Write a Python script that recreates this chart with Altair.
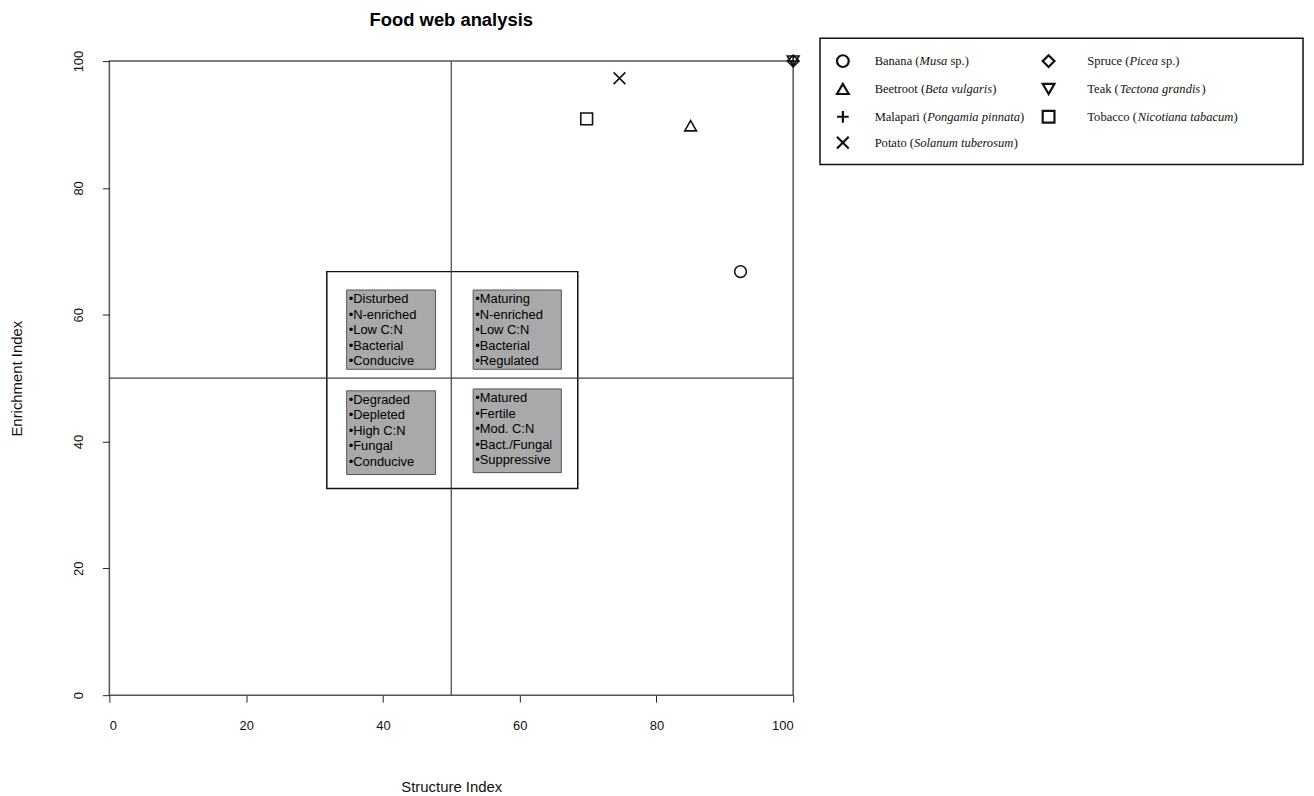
import altair as alt
import pandas as pd

# ---------------- data ----------------
species = ["Banana", "Beetroot", "Malapari", "Potato", "Spruce", "Teak", "Tobacco"]
latin = ["Musa", "Beta vulgaris", "Pongamia pinnata", "Solanum tuberosum",
         "Picea", "Tectona grandis", "Nicotiana tabacum"]
suffix = [" sp.)", ")", ")", ")", " sp.)", ")", ")"]
structure_index = [92.3, 85.0, 100.0, 74.6, 100.0, 100.0, 69.8]
enrichment_index = [66.8, 89.8, 100.0, 97.3, 100.0, 100.0, 90.9]
shapes = ["circle", "triangle-up", "M-1,0L1,0M0,-1L0,1", "M-1,-1L1,1M-1,1L1,-1",
          "diamond", "triangle-down", "square"]

quad_labels = [
    "•Disturbed\n•N-enriched\n•Low C:N\n•Bacterial\n•Conducive",
    "•Maturing\n•N-enriched\n•Low C:N\n•Bacterial\n•Regulated",
    "•Degraded\n•Depleted\n•High C:N\n•Fungal\n•Conducive",
    "•Matured\n•Fertile\n•Mod. C:N\n•Bact./Fungal\n•Suppressive",
]
# gray box extents (data units)
quad_x1 = [34.7, 53.2, 34.7, 53.2]
quad_x2 = [47.7, 66.1, 47.7, 66.1]
quad_y1 = [51.4, 51.4, 34.8, 35.1]
quad_y2 = [63.9, 63.9, 48.0, 48.3]
quad_tx = [35.0, 53.5, 35.0, 53.5]
quad_ty = [63.4, 63.4, 47.5, 47.8]

ticks = [0, 20, 40, 60, 80, 100]

# ---------------- layout ----------------
W, H = 688, 638
PXX = W / 100.0
PXY = H / 100.0
FS_LEG = 12.6

roman = {" ": 250, "(": 333, ")": 333, ".": 250, "B": 667, "M": 889, "P": 556,
         "S": 556, "T": 611, "a": 444, "b": 500, "c": 444, "e": 444, "i": 278,
         "k": 500, "l": 278, "n": 500, "o": 500, "p": 500, "r": 333, "s": 389,
         "t": 278, "u": 500}
italic = {" ": 250, "B": 611, "M": 833, "N": 667, "P": 611, "S": 500, "T": 556,
          "a": 500, "b": 500, "c": 444, "d": 500, "e": 444, "g": 500, "i": 278,
          "l": 278, "m": 722, "n": 500, "o": 500, "p": 500, "r": 389, "s": 389,
          "t": 278, "u": 500, "v": 444}


def twidth(s, table):
    return sum(table.get(ch, 500) for ch in s) / 1000.0 * FS_LEG


# legend grid (pixels relative to plot origin)
leg_col = [0, 0, 0, 0, 1, 1, 1]
leg_row = [0, 1, 2, 3, 0, 1, 2]
sym_x = [738, 945]
txt_x = [770, 984]
row_y = [0, 28, 56, 82]

sym_rows, seg_rows = [], []
for i, sp in enumerate(species):
    c, r = leg_col[i], leg_row[i]
    yv = 100 - row_y[r] / PXY
    sym_rows.append({"species": sp, "x": sym_x[c] / PXX, "y": yv})
    x0 = txt_x[c]
    segments = [(sp + " (", "n", roman), (latin[i], "i", italic), (suffix[i], "n", roman)]
    xc = x0
    for txt, style, tab in segments:
        lead = len(txt) - len(txt.lstrip(" "))
        xc += twidth(" " * lead, tab)
        core = txt.lstrip(" ")
        seg_rows.append({"t": core, "x": xc / PXX, "y": yv, "style": style})
        xc += twidth(core, tab)

pts = pd.DataFrame({"species": species, "SI": structure_index, "EI": enrichment_index})
syms = pd.DataFrame(sym_rows)
segs = pd.DataFrame(seg_rows)
quads = pd.DataFrame({"label": quad_labels, "x1": quad_x1, "x2": quad_x2,
                      "y1": quad_y1, "y2": quad_y2, "tx": quad_tx, "ty": quad_ty})

xs = alt.Scale(domain=[0, 100], nice=False, zero=False)
ys = alt.Scale(domain=[0, 100], nice=False, zero=False)
shape_scale = alt.Scale(domain=species, range=shapes)

FONT = "Liberation Sans"

xaxis = alt.Axis(values=ticks, title="Structure Index", grid=False, domain=False,
                 tickSize=7, tickColor="#222", labelPadding=18, labelFontSize=13,
                 labelFont=FONT, labelColor="#111", titleFont=FONT, titleFontSize=15,
                 titleFontWeight="normal", titleColor="#111", titlePadding=47)
yaxis = alt.Axis(values=ticks, title="Enrichment Index", grid=False, domain=False,
                 tickSize=7, tickColor="#222", labelPadding=17, labelFontSize=13,
                 labelAngle=270, labelFont=FONT, labelColor="#111", titleFont=FONT,
                 titleFontSize=15, titleFontWeight="normal", titleColor="#111",
                 titlePadding=48)

# inset white box
inset = alt.Chart(pd.DataFrame({"a": [0]})).mark_rect(
    fill="white", stroke="#111", strokeWidth=1.5
).encode(
    x=alt.X("x1:Q", scale=xs, axis=xaxis), x2="x2:Q",
    y=alt.Y("y1:Q", scale=ys, axis=yaxis), y2="y2:Q",
).transform_calculate(x1="31.8", x2="68.5", y1="32.6", y2="66.8")

vline = alt.Chart(pd.DataFrame({"v": [50]})).mark_rule(color="#444", strokeWidth=1.2).encode(
    x=alt.X("v:Q", scale=xs))
hline = alt.Chart(pd.DataFrame({"v": [50]})).mark_rule(color="#444", strokeWidth=1.2).encode(
    y=alt.Y("v:Q", scale=ys))

gray = alt.Chart(quads).mark_rect(fill="#a9a9a9", stroke="#555", strokeWidth=1).encode(
    x=alt.X("x1:Q", scale=xs), x2="x2:Q", y=alt.Y("y1:Q", scale=ys), y2="y2:Q")

qtext = alt.Chart(quads).mark_text(
    align="left", baseline="top", lineBreak="\n", lineHeight=15.6,
    font=FONT, fontSize=13, color="#000"
).encode(x=alt.X("tx:Q", scale=xs), y=alt.Y("ty:Q", scale=ys), text="label:N")

points = alt.Chart(pts).mark_point(filled=False, size=140, strokeWidth=1.6, opacity=1,
                                   color="#111").encode(
    x=alt.X("SI:Q", scale=xs), y=alt.Y("EI:Q", scale=ys),
    shape=alt.Shape("species:N", scale=shape_scale, legend=None))

# custom legend
legbox = alt.Chart(pd.DataFrame({"a": [0]})).mark_rect(
    fill="white", stroke="#111", strokeWidth=1.5
).encode(
    x=alt.X("x1:Q", scale=xs), x2="x2:Q", y=alt.Y("y1:Q", scale=ys), y2="y2:Q"
).transform_calculate(
    x1=str(715 / PXX), x2=str(1201 / PXX), y1=str(100 + 23 / PXY), y2=str(100 - 104 / PXY))

legsym = alt.Chart(syms).mark_point(filled=False, size=140, strokeWidth=2.2, opacity=1,
                                    color="#111").encode(
    x=alt.X("x:Q", scale=xs), y=alt.Y("y:Q", scale=ys),
    shape=alt.Shape("species:N", scale=shape_scale, legend=None))

legtxt_n = alt.Chart(segs).transform_filter("datum.style == 'n'").mark_text(
    align="left", baseline="middle", font="Liberation Serif", fontSize=FS_LEG, color="#111"
).encode(x=alt.X("x:Q", scale=xs), y=alt.Y("y:Q", scale=ys), text="t:N")
legtxt_i = alt.Chart(segs).transform_filter("datum.style == 'i'").mark_text(
    align="left", baseline="middle", font="Liberation Serif", fontSize=FS_LEG,
    fontStyle="italic", color="#111"
).encode(x=alt.X("x:Q", scale=xs), y=alt.Y("y:Q", scale=ys), text="t:N")

chart = alt.layer(
    inset, vline, hline, gray, qtext, points, legbox, legsym, legtxt_n, legtxt_i
).properties(
    width=W, height=H,
    title=alt.TitleParams("Food web analysis", font=FONT, fontSize=18.5, fontWeight="bold",
                          anchor="middle", frame="group", offset=8, color="#000"),
    padding={"left": 1, "top": 0, "right": 2, "bottom": 0},
).configure_view(
    stroke="#555", strokeWidth=1.5
)

chart.save("out.html", embed_options={"renderer": "svg", "actions": False})
